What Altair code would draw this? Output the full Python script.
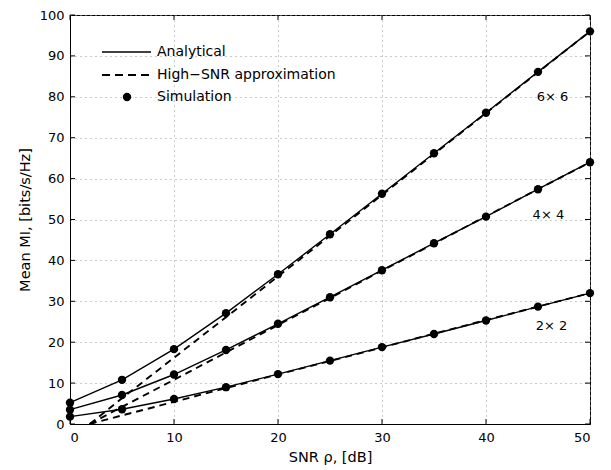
import altair as alt
import pandas as pd

# ---- data ----
snr = [0, 5, 10, 15, 20, 25, 30, 35, 40, 45, 50]
an6 = [5.2, 10.8, 18.3, 27.1, 36.6, 46.4, 56.3, 66.2, 76.1, 86.1, 96.0]
an4 = [3.5, 7.1, 12.1, 18.1, 24.5, 31.0, 37.6, 44.2, 50.7, 57.4, 64.0]
an2 = [1.8, 3.6, 6.1, 9.0, 12.2, 15.5, 18.8, 22.0, 25.3, 28.7, 32.0]

sim6 = [5.2, 10.8, 18.3, 27.1, 36.6, 46.4, 56.3, 66.2, 76.1, 86.1, 96.0]
sim4 = [3.5, 7.1, 12.1, 18.1, 24.5, 31.0, 37.6, 44.2, 50.7, 57.4, 64.0]
sim2 = [1.8, 3.6, 6.1, 9.0, 12.2, 15.5, 18.8, 22.0, 25.3, 28.7, 32.0]

snr_hi = [1.9, 5, 10, 15, 20, 25, 30, 35, 40, 45, 50]
hi6 = [0.0, 6.3, 16.2, 26.1, 36.1, 46.0, 56.0, 66.0, 76.0, 86.0, 96.0]
hi4 = [0.0, 4.2, 10.8, 17.5, 24.2, 30.8, 37.5, 44.1, 50.8, 57.4, 64.0]
hi2 = [0.0, 2.1, 5.4, 8.8, 12.1, 15.4, 18.7, 22.1, 25.4, 28.7, 32.0]

configs = ["6×6", "4×4", "2×2"]
label_text = ["6× 6", "4× 4", "2× 2"]
label_x = [46.4, 46.0, 46.3]
label_y = [80.0, 51.0, 24.0]

x_ticks = [0, 10, 20, 30, 40, 50]
y_ticks = [0, 10, 20, 30, 40, 50, 60, 70, 80, 90, 100]

legend_labels = ["Analytical", "High−SNR approximation", "Simulation"]

W, H = 520, 409
FONT = "DejaVu Sans"

# ---- tables ----
def long_table(xvals, series):
    rows = []
    for cfg, yv in zip(configs, series):
        for x, y in zip(xvals, yv):
            rows.append({"snr": x, "mi": y, "cfg": cfg})
    return pd.DataFrame(rows)

df_an = long_table(snr, [an6, an4, an2])
df_hi = long_table(snr_hi, [hi6, hi4, hi2])
df_sim = long_table(snr, [sim6, sim4, sim2])
df_lab = pd.DataFrame({"snr": label_x, "mi": label_y, "t": label_text})

xs = alt.Scale(domain=[0, 50], nice=False, zero=False)
ys = alt.Scale(domain=[0, 100], nice=False)

X = alt.X("snr:Q", scale=xs, title="SNR ρ, [dB]",
          axis=alt.Axis(values=x_ticks, grid=True, tickSize=0, labelPadding=7,
                        titlePadding=6, labelFontSize=13))
Y = alt.Y("mi:Q", scale=ys, title="Mean MI, [bits/s/Hz]",
          axis=alt.Axis(values=y_ticks, grid=True, tickSize=0, labelPadding=6,
                        titlePadding=7, labelFontSize=13))

analytical = alt.Chart(df_an).mark_line(color="black", strokeWidth=1.4).encode(
    x=X, y=Y, detail="cfg:N")
high = alt.Chart(df_hi).mark_line(color="black", strokeWidth=1.9, strokeDash=[7, 5],
                                  clip=True).encode(
    x=alt.X("snr:Q", scale=xs), y=alt.Y("mi:Q", scale=ys), detail="cfg:N")
sim = alt.Chart(df_sim).mark_circle(color="black", size=70, opacity=1).encode(
    x=alt.X("snr:Q", scale=xs), y=alt.Y("mi:Q", scale=ys))
labels = alt.Chart(df_lab).mark_text(font=FONT, fontSize=13, color="black").encode(
    x=alt.X("snr:Q", scale=xs), y=alt.Y("mi:Q", scale=ys), text="t:N")

# inward ticks (MATLAB style)
dfx = pd.DataFrame({"v": x_ticks})
dfy = pd.DataFrame({"v": y_ticks})
tick_b = alt.Chart(dfx).mark_rule(color="black", strokeWidth=1).encode(
    x=alt.X("v:Q", scale=xs), y=alt.value(H), y2=alt.value(H - 5))
tick_t = alt.Chart(dfx).mark_rule(color="black", strokeWidth=1).encode(
    x=alt.X("v:Q", scale=xs), y=alt.value(0), y2=alt.value(5))
tick_l = alt.Chart(dfy).mark_rule(color="black", strokeWidth=1).encode(
    y=alt.Y("v:Q", scale=ys), x=alt.value(0), x2=alt.value(5))
tick_r = alt.Chart(dfy).mark_rule(color="black", strokeWidth=1).encode(
    y=alt.Y("v:Q", scale=ys), x=alt.value(W), x2=alt.value(W - 5))

# manual legend (top-left, inside plot)
one = pd.DataFrame({"a": [0]})
leg_solid = alt.Chart(one).mark_rule(color="black", strokeWidth=1.4).encode(
    x=alt.value(32), x2=alt.value(81), y=alt.value(37))
leg_dash = alt.Chart(one).mark_rule(color="black", strokeWidth=1.9, strokeDash=[8, 5]).encode(
    x=alt.value(32), x2=alt.value(81), y=alt.value(60))
leg_dot = alt.Chart(one).mark_circle(color="black", size=70, opacity=1).encode(
    x=alt.value(57), y=alt.value(82))
leg_text = []
for lab, yy in zip(legend_labels, [37, 60, 82]):
    leg_text.append(
        alt.Chart(pd.DataFrame({"t": [lab]})).mark_text(
            font=FONT, fontSize=14, color="black", align="left", baseline="middle"
        ).encode(x=alt.value(87), y=alt.value(yy), text="t:N"))

chart = alt.layer(
    analytical, high, sim, labels,
    tick_b, tick_t, tick_l, tick_r,
    leg_solid, leg_dash, leg_dot, *leg_text
).properties(
    width=W, height=H,
    autosize=alt.AutoSizeParams(type="none"),
    padding={"left": 62, "top": 7, "right": 10, "bottom": 45},
    background="white",
).configure_view(
    stroke="black", strokeWidth=1
).configure_axis(
    labelFont=FONT, titleFont=FONT, titleFontSize=14.5,
    labelColor="black", titleColor="black", titleFontWeight="normal",
    gridColor="#999999", gridDash=[1, 4], gridWidth=1, gridOpacity=1,
    domainColor="black", domainWidth=1,
)

chart.save("out.html", embed_options={"renderer": "svg", "actions": False})
